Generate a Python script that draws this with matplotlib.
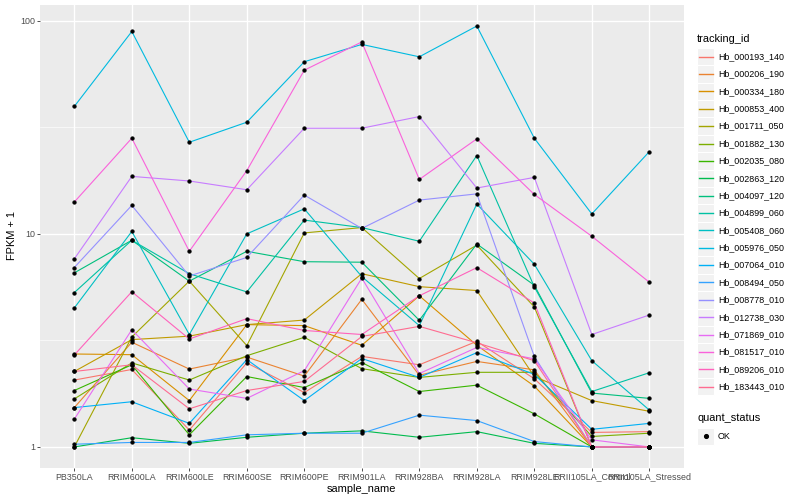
import numpy as np
import matplotlib
matplotlib.use("Agg")
import matplotlib.pyplot as plt
from matplotlib.patches import Rectangle
from matplotlib.lines import Line2D

plt.rcParams['font.family'] = ['Liberation Sans', 'DejaVu Sans']

samples = ["PB350LA", "RRIM600LA", "RRIM600LE", "RRIM600SE", "RRIM600PE", "RRIM901LA",
           "RRIM928BA", "RRIM928LA", "RRIM928LE", "RRII105LA_Control", "RRII105LA_Stressed"]

tracking_ids = ["Hb_000193_140", "Hb_000206_190", "Hb_000334_180", "Hb_000853_400",
                "Hb_001711_050", "Hb_001882_130", "Hb_002035_080", "Hb_002863_120",
                "Hb_004097_120", "Hb_004899_060", "Hb_005408_060", "Hb_005976_050",
                "Hb_007064_010", "Hb_008494_050", "Hb_008778_010", "Hb_012738_030",
                "Hb_071869_010", "Hb_081517_010", "Hb_089206_010", "Hb_183443_010"]

colors = ["#F8766D", "#EA8331", "#D89000", "#C09B00", "#A3A500", "#7CAE00", "#39B600",
          "#00BB4E", "#00BF7D", "#00C1A3", "#00BFC4", "#00BAE0", "#00B0F6", "#35A2FF",
          "#9590FF", "#C77CFF", "#E76BF3", "#FA62DB", "#FF62BC", "#FF6C91"]

Hb_000193_140 = [2.06, 2.31, 1.20, 2.48, 1.80, 2.66, 2.43, 3.13, 2.09, 1.17, 1.18]
Hb_000206_190 = [1.53, 3.10, 2.32, 2.64, 2.15, 4.93, 2.17, 2.52, 2.30, 1.00, 1.00]
Hb_000334_180 = [2.73, 2.71, 1.65, 3.75, 3.71, 3.00, 5.12, 3.00, 1.93, 1.00, 1.00]
Hb_000853_400 = [2.26, 3.19, 3.31, 3.75, 3.94, 6.50, 5.65, 5.42, 2.14, 1.65, 1.47]
Hb_001711_050 = [1.00, 3.28, 6.00, 2.99, 10.1, 10.7, 6.17, 8.85, 4.54, 1.00, 1.00]
Hb_001882_130 = [1.68, 2.48, 2.06, 2.68, 3.27, 2.33, 2.12, 2.24, 2.24, 1.12, 1.16]
Hb_002035_080 = [1.84, 2.43, 1.14, 2.14, 1.90, 2.49, 1.82, 1.95, 1.43, 1.00, 1.00]
Hb_002863_120 = [1.00, 1.105, 1.04, 1.11, 1.16, 1.19, 1.11, 1.18, 1.04, 1.00, 1.00]
Hb_004097_120 = [6.56, 9.33, 6.00, 8.28, 7.40, 7.36, 3.93, 8.96, 5.74, 1.79, 1.69]
Hb_004899_060 = [5.30, 9.33, 6.50, 5.34, 11.6, 10.7, 9.23, 23.3, 5.64, 1.82, 2.23]
Hb_005408_060 = [4.49, 10.26, 3.37, 10.0, 13.1, 6.30, 3.71, 13.8, 7.20, 2.54, 1.49]
Hb_005976_050 = [39.6, 89.0, 26.9, 33.4, 64.2, 77.4, 67.7, 94.4, 28.1, 12.4, 24.3]
Hb_007064_010 = [1.53, 1.63, 1.29, 2.57, 1.65, 2.60, 2.12, 2.77, 2.19, 1.21, 1.29]
Hb_008494_050 = [1.03, 1.05, 1.05, 1.14, 1.16, 1.16, 1.41, 1.33, 1.06, 1.00, 1.00]
Hb_008778_010 = [6.95, 13.6, 6.34, 7.75, 15.2, 10.6, 14.4, 15.4, 2.66, 1.00, 1.00]
Hb_012738_030 = [7.63, 18.6, 17.7, 16.1, 31.3, 31.3, 35.5, 16.4, 18.4, 3.37, 4.16]
Hb_071869_010 = [1.35, 3.55, 1.87, 1.69, 2.28, 6.20, 2.21, 2.93, 2.59, 1.08, 1.00]
Hb_081517_010 = [14.1, 28.1, 8.28, 19.8, 58.6, 79.5, 18.0, 27.9, 15.3, 9.74, 5.93]
Hb_089206_010 = [2.70, 5.35, 3.21, 4.00, 3.52, 3.37, 5.12, 6.94, 4.74, 1.00, 1.00]
Hb_183443_010 = [2.26, 2.43, 1.51, 1.84, 2.03, 3.30, 3.68, 3.08, 2.54, 1.00, 1.00]

series = [Hb_000193_140, Hb_000206_190, Hb_000334_180, Hb_000853_400, Hb_001711_050,
          Hb_001882_130, Hb_002035_080, Hb_002863_120, Hb_004097_120, Hb_004899_060,
          Hb_005408_060, Hb_005976_050, Hb_007064_010, Hb_008494_050, Hb_008778_010,
          Hb_012738_030, Hb_071869_010, Hb_081517_010, Hb_089206_010, Hb_183443_010]

W, H = 800, 500
fig = plt.figure(figsize=(8, 5), dpi=100)
fig.patch.set_facecolor("white")

# panel in pixel coords
pl, pr, pt, pb = 39.8, 683.8, 5.0, 468.0
ax = fig.add_axes([pl / W, 1 - pb / H, (pr - pl) / W, (pb - pt) / H])
ax.set_facecolor("#EBEBEB")
for s in ax.spines.values():
    s.set_visible(False)

x = np.arange(len(samples))
for vals, col in zip(series, colors):
    ax.plot(x, vals, color=col, lw=0.8, zorder=2, solid_capstyle="butt")
for vals in series:
    ax.plot(x, vals, linestyle="none", marker="o", ms=2.7, color="black",
            mec="black", mew=0.3, zorder=3)

ax.set_yscale("log")
allv = np.concatenate([np.asarray(v) for v in series])
lo, hi = np.log10(allv.min()), np.log10(allv.max())
pad = 0.05 * (hi - lo)
ax.set_ylim(10 ** (lo - pad), 10 ** (hi + pad))
ax.set_xlim(-0.6, len(samples) - 1 + 0.6)

ax.set_yticks([1, 10, 100])
ax.set_yticklabels(["1", "10", "100"])
ax.set_yticks([10 ** 0.5, 10 ** 1.5], minor=True)
ax.yaxis.set_minor_formatter(matplotlib.ticker.NullFormatter())
ax.set_xticks(x)
ax.set_xticklabels(samples)

ax.grid(True, which="major", color="white", lw=0.95, zorder=0)
ax.grid(True, which="minor", axis="y", color="white", lw=0.45, zorder=0)
ax.set_axisbelow(True)
ax.tick_params(axis="both", which="major", length=2.0, width=0.6, color="#333333",
               labelsize=6.4, labelcolor="#4D4D4D", pad=1.3)
ax.tick_params(axis="y", which="minor", length=0)

fig.text(12 / W, 1 - 236 / H, "FPKM + 1", rotation=90, ha="center", va="center",
         fontsize=7.9, color="black")
fig.text(((pl + pr) / 2) / W, 1 - 489 / H, "sample_name", ha="center", va="center",
         fontsize=7.9, color="black")

# legend drawn in pixel coordinates
lg = fig.add_axes([0, 0, 1, 1], zorder=5)
lg.set_xlim(0, W)
lg.set_ylim(H, 0)
lg.axis("off")
lg.patch.set_alpha(0)

kx, kw, kh = 697.0, 17.3, 17.37
y0 = 48.0
lg.text(kx, 39.5, "tracking_id", ha="left", va="center", fontsize=7.9)
for i, (name, col) in enumerate(zip(tracking_ids, colors)):
    top = y0 + i * kh
    lg.add_patch(Rectangle((kx, top), kw, kh, facecolor="#F2F2F2", edgecolor="white",
                           lw=0.8, zorder=1))
    lg.add_line(Line2D([kx + 1.7, kx + kw - 1.7], [top + kh / 2, top + kh / 2],
                       color=col, lw=1.0, zorder=3))
    lg.text(kx + kw + 3.5, top + kh / 2, name, ha="left", va="center", fontsize=6.4)

lg.text(kx, 418, "quant_status", ha="left", va="center", fontsize=7.9)
top = 427.5
lg.add_patch(Rectangle((kx, top), kw, kh, facecolor="#F2F2F2", edgecolor="white",
                       lw=0.8, zorder=1))
lg.add_line(Line2D([kx + kw / 2], [top + kh / 2], marker="o", ms=2.7, color="black",
                   linestyle="none", zorder=3))
lg.text(kx + kw + 3.5, top + kh / 2, "OK", ha="left", va="center", fontsize=6.4)

fig.savefig("out.png", dpi=100)
